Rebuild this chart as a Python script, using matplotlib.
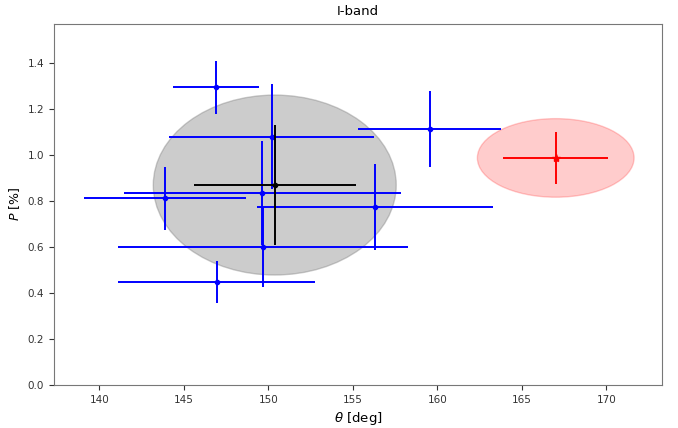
import numpy as np
import matplotlib.pyplot as plt
from matplotlib.patches import Ellipse

# individual I-band measurements
theta = [146.9, 150.2, 143.9, 149.65, 149.7, 146.95, 156.3, 159.55]
theta_err = [2.56, 6.06, 4.79, 8.21, 8.58, 5.82, 6.99, 4.24]
pol = [1.295, 1.08, 0.812, 0.836, 0.602, 0.447, 0.774, 1.114]
pol_err = [0.115, 0.228, 0.137, 0.225, 0.174, 0.092, 0.188, 0.167]

# weighted mean of the measurements
mean_theta, mean_theta_err = 150.38, 4.79
mean_pol, mean_pol_err = 0.870, 0.261

# reference value
ref_theta, ref_theta_err = 167.0, 3.09
ref_pol, ref_pol_err = 0.988, 0.114


def main():
    fig = plt.figure(figsize=(6.78, 4.28), dpi=100)
    ax = fig.add_axes([0.0796, 0.1005, 0.8974, 0.8441])

    ax.add_patch(Ellipse((mean_theta, mean_pol), 3 * mean_theta_err, 3 * mean_pol_err,
                         color='gray', alpha=0.4, zorder=1))
    ax.add_patch(Ellipse((ref_theta, ref_pol), 3 * ref_theta_err, 3 * ref_pol_err,
                         color='red', alpha=0.2, zorder=1))

    ax.errorbar(theta, pol, xerr=theta_err, yerr=pol_err, fmt='o', color='b',
                markersize=3, elinewidth=1.4, zorder=2)
    ax.errorbar(mean_theta, mean_pol, xerr=mean_theta_err, yerr=mean_pol_err, fmt='o',
                color='k', markersize=3, elinewidth=1.4, zorder=3)
    ax.errorbar(ref_theta, ref_pol, xerr=ref_theta_err, yerr=ref_pol_err, fmt='*',
                color='r', markersize=6, elinewidth=1.4, zorder=3)

    ax.set_xlim(137.32, 173.31)
    ax.set_ylim(0, 1.572)
    ax.set_xticks(np.arange(140, 171, 5))
    ax.set_yticks(np.arange(0, 1.41, 0.2))
    ax.tick_params(labelsize=7.5, colors='#333333')
    for s in ax.spines.values():
        s.set_color('#777777')

    ax.set_xlabel(r'$\theta$ [deg]', fontsize=9.5)
    ax.set_ylabel(r'$P$ [%]', fontsize=9)
    ax.set_title('I-band', fontsize=9.5)

    plt.savefig("out.png")


if __name__ == "__main__":
    main()
